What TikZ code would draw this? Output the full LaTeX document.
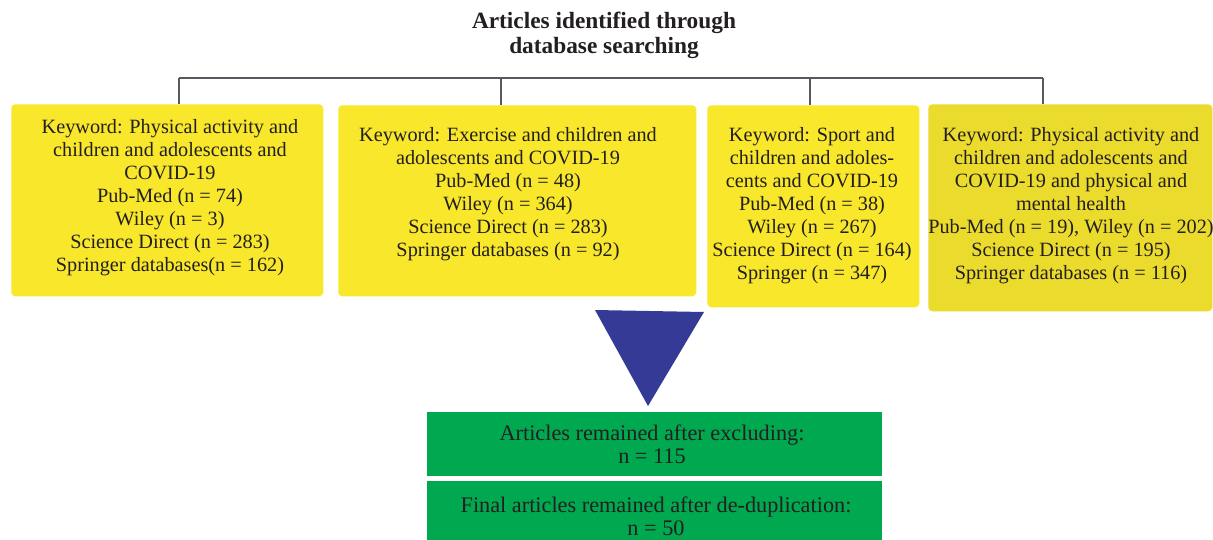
\documentclass[tikz,border=0pt]{standalone}
\usepackage{fontspec}
\setmainfont{Liberation Serif}
\definecolor{yboxc}{HTML}{F8E72B}
\definecolor{ybox2c}{HTML}{EBDB2D}
\definecolor{gboxc}{HTML}{00A850}
\definecolor{tric}{HTML}{353A96}
\definecolor{txtc}{HTML}{231F20}
\definecolor{connc}{HTML}{555A60}
\begin{document}
\begin{tikzpicture}[x=0.75pt,y=-0.75pt,
  boxbase/.style={draw=none, inner sep=0pt, anchor=north west, rounded corners=3pt},
  ybox/.style={boxbase, fill=yboxc},
  ybox2/.style={boxbase, fill=ybox2c},
  gbox/.style={boxbase, fill=gboxc, rounded corners=0pt, minimum width=341.25pt},
  txt/.style={text=txtc, align=center, inner sep=0pt, font=\fontsize{15.2}{17.25}\selectfont},
  gtxt/.style={txt, font=\fontsize{16.7}{17.25}\selectfont},
  ttl/.style={txt, font=\fontsize{17.5}{18.75}\selectfont\bfseries},
  conn/.style={draw=connc, line width=0.9pt}
]
\path[use as bounding box] (0,0) rectangle (1213,539);
\fill[white] (0,0) rectangle (1213,539);

% title
\node[ttl] (title) at (604,35) {Articles identified through\\database searching};

% boxes
\node[ybox, minimum width=234pt, minimum height=144pt] (b1) at (11,104) {};
\node[ybox, minimum width=268.5pt, minimum height=143.25pt] (b2) at (338,105) {};
\node[ybox, minimum width=159pt, minimum height=151.5pt] (b3) at (707,105) {};
\node[ybox2, minimum width=213pt, minimum height=155.25pt] (b4) at (928,104) {};

\node[txt] (t1) at (170,198) {Keyword: Physical activity and\\children and adolescents and\\COVID-19\\Pub-Med (n = 74)\\Wiley (n = 3)\\Science Direct (n = 283)\\Springer databases(n = 162)};
\node[txt] (t2) at (508,194.5) {Keyword: Exercise and children and\\adolescents and COVID-19\\Pub-Med (n = 48)\\Wiley (n = 364)\\Science Direct (n = 283)\\Springer databases (n = 92)};
\node[txt] (t3) at (812,206) {Keyword: Sport and\\children and adoles-\\cents and COVID-19\\Pub-Med (n = 38)\\Wiley (n = 267)\\Science Direct (n = 164)\\Springer (n = 347)};
\node[txt] (t4) at (1071,206) {Keyword: Physical activity and\\children and adolescents and\\COVID-19 and physical and\\mental health\\Pub-Med (n = 19), Wiley (n = 202)\\Science Direct (n = 195)\\Springer databases (n = 116)};

% connectors
\coordinate (busL) at (179,78);
\coordinate (busR) at (1043,78);
\coordinate (d2) at (501,78);
\coordinate (d3) at (810,78);
\draw[conn] (busL) -- (busR);
\draw[conn] (busL) -- (busL |- b1.north);
\draw[conn] (d2) -- (d2 |- b2.north);
\draw[conn] (d3) -- (d3 |- b3.north);
\draw[conn] (busR) -- (busR |- b4.north);

% triangle
\fill[tric] (595,310) -- (704,312) -- (648,406) -- cycle;

% green boxes
\node[gbox, minimum height=48pt] (g1) at (427,412) {};
\node[gbox, minimum height=60pt] (g2) at (427,481) {};
\node[gtxt] (tg1) at (652,444.5) {Articles remained after excluding:\\n = 115};
\node[gtxt] (tg2) at (656,516) {Final articles remained after de-duplication:\\n = 50};
\end{tikzpicture}
\end{document}
